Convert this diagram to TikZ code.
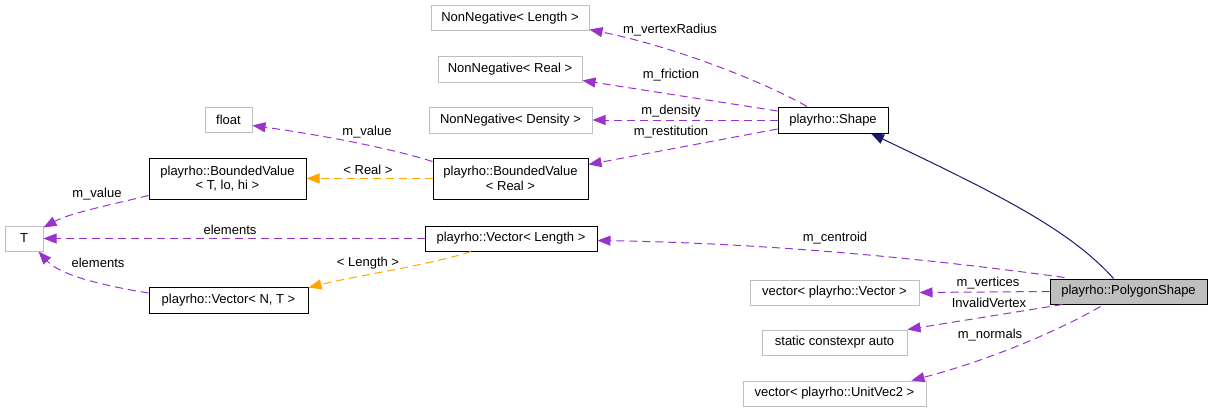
\documentclass[tikz,border=0pt]{standalone}
\usepackage{fontspec}
\setmainfont{Liberation Sans}
\usetikzlibrary{arrows.meta}
\definecolor{edgepurple}{RGB}{154,50,205}
\definecolor{edgeorange}{RGB}{255,165,0}
\definecolor{edgenavy}{RGB}{25,25,112}
\definecolor{boxgray}{RGB}{191,191,191}
\tikzset{
  box/.style={draw, line width=1pt, fill=white, inner sep=0pt, align=center,
    font=\fontsize{13}{14.5}\selectfont},
  gbox/.style={box, draw=boxgray},
  bbox/.style={box, draw=black},
  mainbox/.style={box, draw=black, fill=boxgray},
  lbl/.style={inner sep=0pt, font=\fontsize{13}{14.5}\selectfont},
  uses/.style={draw=edgepurple, line width=1pt, dash pattern=on 8pt off 5pt,
    -{Triangle[length=13pt,width=10pt,fill=edgepurple]}},
  tmpl/.style={draw=edgeorange, line width=1pt, dash pattern=on 8pt off 5pt,
    -{Triangle[length=13pt,width=10pt,fill=edgeorange]}},
  inherit/.style={draw=edgenavy, line width=1pt,
    -{Triangle[length=13pt,width=10pt,fill=edgenavy]}},
}
\begin{document}
\begin{tikzpicture}[x=1pt,y=-1pt]
\useasboundingbox (0,0) rectangle (1212,412);
% nodes
\node[gbox, minimum width=158pt, minimum height=25pt] (nnl) at (510,18.5) {NonNegative< Length >};
\node[gbox, minimum width=144pt, minimum height=25pt] (nnr) at (510,69.5) {NonNegative< Real >};
\node[gbox, minimum width=47pt, minimum height=25pt] (flt) at (228.5,119.5) {float};
\node[gbox, minimum width=163pt, minimum height=26pt] (nnd) at (510.5,120) {NonNegative< Density >};
\node[bbox, minimum width=110pt, minimum height=26pt] (shape) at (833,120) {playrho::Shape};
\node[bbox, minimum width=157pt, minimum height=41pt] (bvT) at (227.5,178.5) {playrho::BoundedValue\\< T, lo, hi >};
\node[bbox, minimum width=155pt, minimum height=41pt] (bvR) at (510.5,178.5) {playrho::BoundedValue\\< Real >};
\node[gbox, minimum width=38pt, minimum height=25pt] (T) at (24,238.5) {T};
\node[bbox, minimum width=172pt, minimum height=25pt] (vecL) at (511,238.5) {playrho::Vector< Length >};
\node[bbox, minimum width=159pt, minimum height=26pt] (vecNT) at (228.5,300) {playrho::Vector< N, T >};
\node[gbox, minimum width=169pt, minimum height=25pt] (vv) at (834.5,292.5) {vector< playrho::Vector >};
\node[mainbox, minimum width=157pt, minimum height=25pt] (poly) at (1128.5,291.5) {playrho::PolygonShape};
\node[gbox, minimum width=145pt, minimum height=25pt] (sca) at (834.5,342.5) {static constexpr auto};
\node[gbox, minimum width=183pt, minimum height=25pt] (uv) at (834.5,393.5) {vector< playrho::UnitVec2 >};

% edges
\draw[uses] ([xshift=-26pt]shape.north) .. controls (770,85) and (680,48) .. ([yshift=2pt]nnl.south east);
\draw[uses] ([yshift=9pt]shape.west) -- ([yshift=2pt]nnr.south east);
\draw[uses] (shape.west) -- (nnd.east);
\draw[uses] ([yshift=-9pt]shape.west) -- ([yshift=14pt]bvR.east);
\draw[uses] ([yshift=-4pt]bvR.north west) .. controls (380,145) and (300,132) .. ([yshift=-6pt]flt.east);
\draw[tmpl] (bvR.west) -- (bvT.east);
\draw[uses] ([yshift=4pt]bvT.south west) .. controls (110,205) and (70,213) .. ([yshift=-2pt]T.north east);
\draw[uses] (vecL.west) -- (T.east);
\draw[uses] ([yshift=7pt]vecNT.west) .. controls (100,285) and (60,275) .. ([xshift=-5pt]T.south east);
\draw[tmpl] ([xshift=-40pt]vecL.south) .. controls (430,265) and (360,275) .. ([yshift=-1pt]vecNT.north east);
\draw[inherit] ([xshift=-15pt]poly.north) .. controls (1070,230) and (1000,195) .. ([xshift=38pt]shape.south);
\draw[uses] ([xshift=15pt,yshift=1pt]poly.north west) .. controls (900,255) and (750,243) .. ([yshift=-2pt]vecL.east);
\draw[uses] (poly.west) -- (vv.east);
\draw[uses] ([xshift=13pt]poly.south west) -- (sca.north east);
\draw[uses] ([xshift=-28pt,yshift=-2pt]poly.south) .. controls (1060,330) and (990,360) .. ([xshift=-15pt]uv.north east);

% labels
\node[lbl] (l1) at (670,30) {m\_vertexRadius};
\node[lbl] (l2) at (671,75) {m\_friction};
\node[lbl] (l3) at (671,111) {m\_density};
\node[lbl] (l4) at (671,132) {m\_restitution};
\node[lbl] (l5) at (367,132) {m\_value};
\node[lbl] (l6) at (368,170) {< Real >};
\node[lbl] (l7) at (97,194) {m\_value};
\node[lbl] (l8) at (230,230) {elements};
\node[lbl] (l9) at (98,263) {elements};
\node[lbl] (l10) at (368,263) {< Length >};
\node[lbl] (l11) at (835,238) {m\_centroid};
\node[lbl] (l12) at (988,283) {m\_vertices};
\node[lbl] (l13) at (989,303) {InvalidVertex};
\node[lbl] (l14) at (990,335) {m\_normals};
\end{tikzpicture}
\end{document}
